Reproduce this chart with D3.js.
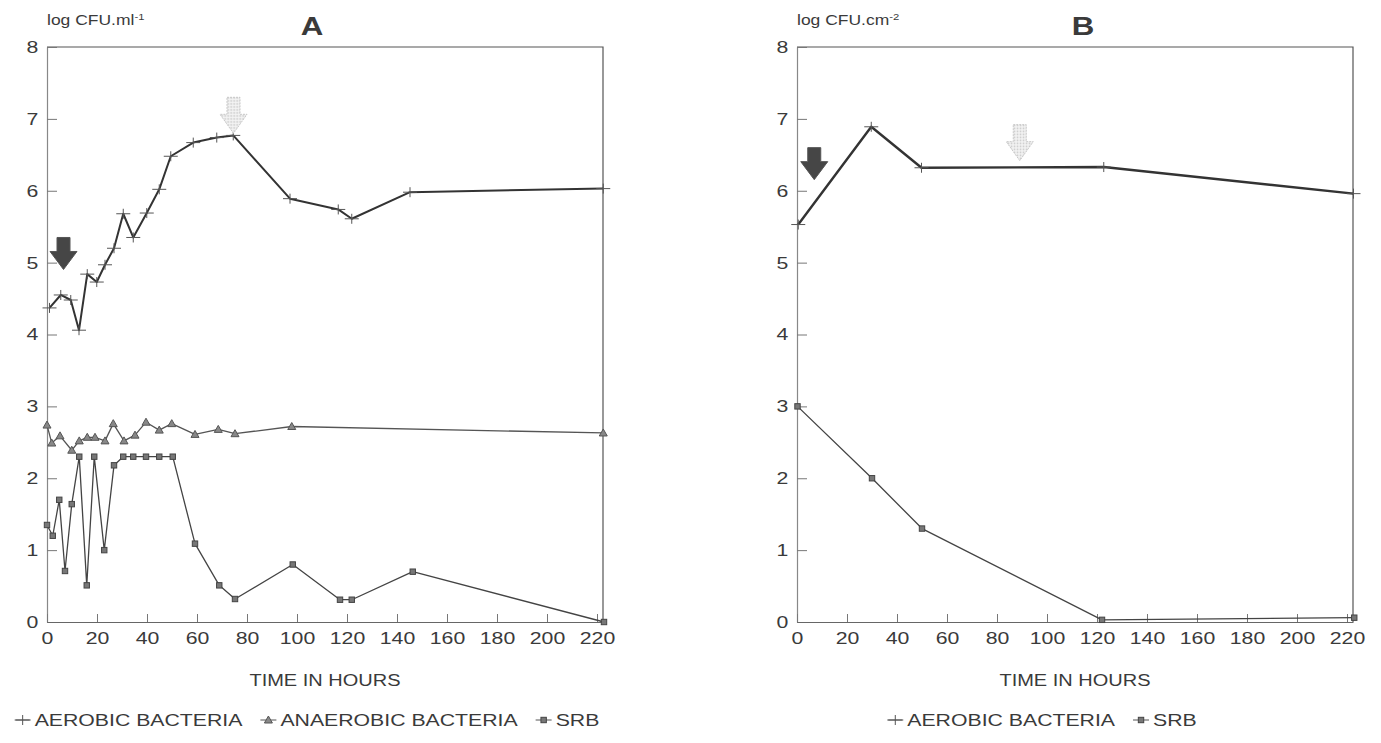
<!DOCTYPE html>
<html>
<head>
<meta charset="utf-8">
<script src="https://cdn.jsdelivr.net/npm/d3@7"></script>
<style>
  body { margin: 0; background: #fff; }
  svg text { font-family: "Liberation Sans", Arial, sans-serif; fill: #3a3a3a; }
</style>
</head>
<body>
<div id="viz"></div>
<script>
// ---- data ----
var yTicks = [0, 1, 2, 3, 4, 5, 6, 7, 8];
var xTicks = [0, 20, 40, 60, 80, 100, 120, 140, 160, 180, 200, 220];

// panel A : log CFU.ml-1
var timeAeroA = [1, 5.5, 9.5, 12.8, 16.1, 19.9, 23.2, 26.8, 30.5, 34.5, 39.9, 44.9, 49.5, 58.5, 67.9, 74.5, 97.2, 116.5, 121.9, 145.2, 222.5];
var aeroA     = [4.37, 4.55, 4.48, 4.06, 4.84, 4.73, 4.97, 5.2, 5.68, 5.35, 5.69, 6.02, 6.48, 6.67, 6.74, 6.77, 5.89, 5.74, 5.61, 5.98, 6.03];

var timeAnaeroA = [0, 1.9, 5.2, 9.9, 12.9, 16.1, 19.2, 23.2, 26.5, 30.8, 35.2, 39.6, 44.9, 49.9, 59.2, 68.5, 75.2, 97.9, 222.5];
var anaeroA     = [2.74, 2.49, 2.59, 2.39, 2.52, 2.57, 2.57, 2.52, 2.76, 2.52, 2.6, 2.78, 2.67, 2.76, 2.61, 2.68, 2.62, 2.72, 2.63];

var timeSrbA = [0, 2.3, 4.9, 7.2, 9.9, 12.9, 15.9, 18.9, 22.9, 26.8, 30.5, 34.5, 39.6, 44.9, 50.3, 59.2, 68.9, 75.2, 98.3, 117.2, 121.9, 146.3, 222.8];
var srbA     = [1.35, 1.2, 1.7, 0.71, 1.64, 2.3, 0.51, 2.3, 1.0, 2.18, 2.3, 2.3, 2.3, 2.3, 2.3, 1.09, 0.51, 0.32, 0.8, 0.31, 0.31, 0.7, 0.0];

// panel B : log CFU.cm-2
var timeAeroB = [0.5, 29.7, 49.8, 122.7, 222.6];
var aeroB     = [5.53, 6.89, 6.32, 6.33, 5.96];
var timeSrbB  = [0.2, 30, 50, 122, 222.9];
var srbB      = [3.0, 2.0, 1.3, 0.03, 0.06];

// arrows (time, top value)
var arrowsA = [{t: 6.6, v: 5.35, kind: 'dark'}, {t: 74.6, v: 7.3, kind: 'light'}];
var arrowsB = [{t: 6.9, v: 6.6, kind: 'dark'}, {t: 89.1, v: 6.92, kind: 'light'}];

var width = 1381, height = 743, sx = 1.25;

var svg = d3.select('#viz').append('svg')
    .attr('width', width)
    .attr('height', height);

var defs = svg.append('defs');
var pat = defs.append('pattern')
    .attr('id', 'dots')
    .attr('width', 3).attr('height', 3)
    .attr('patternUnits', 'userSpaceOnUse');
pat.append('rect').attr('width', 3).attr('height', 3).attr('fill', '#f4f4f4');
pat.append('rect').attr('width', 1.4).attr('height', 1.4).attr('fill', '#bdbdbd');

function zip(ts, vs) {
    return ts.map(function(t, i) { return {t: t, v: vs[i]}; });
}

function wideText(g, x, y, str, size, anchor) {
    return g.append('text')
        .attr('transform', 'translate(' + x + ',' + y + ') scale(' + sx + ',1)')
        .attr('text-anchor', anchor || 'middle')
        .style('font-size', size + 'px')
        .text(str);
}

function drawMarker(g, kind, x, y) {
    if (kind == 'plus') {
        g.append('path')
            .attr('d', 'M' + (x - 7) + ',' + y + 'H' + (x + 7) + 'M' + x + ',' + (y - 5) + 'V' + (y + 5))
            .attr('stroke', '#555').attr('stroke-width', 1).attr('fill', 'none');
    } else if (kind == 'tri') {
        g.append('path')
            .attr('d', 'M' + (x - 4) + ',' + (y + 3) + 'L' + x + ',' + (y - 4) + 'L' + (x + 4) + ',' + (y + 3) + 'Z')
            .attr('stroke', '#555').attr('stroke-width', 1).attr('fill', '#888');
    } else {
        g.append('rect')
            .attr('x', x - 2.7).attr('y', y - 2.7)
            .attr('width', 5.4).attr('height', 5.4)
            .attr('stroke', '#444').attr('stroke-width', 1).attr('fill', '#777');
    }
}

function panel(cfg) {
    var xScale = d3.scaleLinear().domain([0, 222.4]).range([cfg.left, cfg.right]);
    var yScale = d3.scaleLinear().domain([0, 8]).range([622, 47]);
    var g = svg.append('g');

    // frame
    g.append('path')
        .attr('d', 'M' + cfg.left + ',' + yScale(8) + 'H' + cfg.right + 'V' + yScale(0))
        .attr('fill', 'none').attr('stroke', '#555').attr('stroke-width', 1.2);

    var yAxis = g.append('g')
        .attr('transform', 'translate(' + cfg.left + ',0)')
        .call(d3.axisLeft(yScale).tickValues(yTicks).tickSize(-10).tickSizeOuter(0).tickPadding(7));
    var xAxis = g.append('g')
        .attr('transform', 'translate(0,' + yScale(0) + ')')
        .call(d3.axisBottom(xScale).tickValues(xTicks).tickSize(-8).tickSizeOuter(0).tickPadding(13));

    [yAxis, xAxis].forEach(function(ax) {
        ax.select('.domain').attr('stroke', '#666').attr('stroke-width', 1.2);
        ax.selectAll('.tick line').attr('stroke', '#777');
        ax.selectAll('.tick text')
            .style('font-size', '17px')
            .style('font-family', '"Liberation Sans", Arial, sans-serif')
            .attr('fill', '#444')
            .attr('transform', 'scale(' + sx + ',1)');
    });
    yAxis.select('.domain').attr('stroke', '#888');
    xAxis.selectAll('.tick text').attr('dy', '0.55em');

    // labels
    var u = wideText(g, cfg.left, 25, cfg.unit, 14, 'start');
    u.append('tspan').attr('dy', -5).style('font-size', '9px').text(cfg.sup);
    wideText(g, cfg.titleX, 35, cfg.title, 25).style('font-weight', 'bold');
    wideText(g, (cfg.left + cfg.right) / 2, 686, 'TIME IN HOURS', 16);

    // series
    var line = d3.line()
        .x(function(d) { return xScale(d.t); })
        .y(function(d) { return yScale(d.v); });

    cfg.series.forEach(function(s) {
        var pts = zip(s.t, s.v);
        g.append('path')
            .datum(pts)
            .attr('d', line)
            .attr('fill', 'none')
            .attr('stroke', s.color)
            .attr('stroke-width', s.w)
            .attr('stroke-linejoin', 'round');
        pts.forEach(function(d) {
            drawMarker(g, s.marker, xScale(d.t), yScale(d.v));
        });
    });

    // arrows
    cfg.arrows.forEach(function(a) {
        var h = a.kind == 'dark' ? 32 : 36;
        var sh = a.kind == 'dark' ? 14 : 17;
        g.append('path')
            .attr('transform', 'translate(' + xScale(a.t) + ',' + yScale(a.v) + ')')
            .attr('d', 'M-6.5,0L6.5,0L6.5,' + sh + 'L13.5,' + sh + 'L0,' + h + 'L-13.5,' + sh + 'L-6.5,' + sh + 'Z')
            .attr('fill', a.kind == 'dark' ? '#464646' : 'url(#dots)')
            .attr('stroke', a.kind == 'dark' ? '#555' : '#c8c8c8')
            .attr('stroke-width', 1)
            .attr('stroke-dasharray', a.kind == 'dark' ? null : '2,1');
    });

    // legend
    var lg = g.append('g');
    var xpos = 0;
    cfg.legend.forEach(function(item, i) {
        if (i > 0) xpos += 18;
        lg.append('path')
            .attr('d', 'M' + xpos + ',-6H' + (xpos + 16))
            .attr('stroke', '#555').attr('stroke-width', 1);
        drawMarker(lg, item.marker, xpos + 8, -6);
        xpos += 20;
        var t = wideText(lg, xpos, 0, item.name, 17, 'start');
        xpos += t.node().getComputedTextLength() * sx;
    });
    lg.attr('transform', 'translate(' + (cfg.legendX - xpos / 2) + ',726)');
}

panel({
    left: 47, right: 603, titleX: 312, title: 'A',
    unit: 'log CFU.ml', sup: '-1',
    legendX: 307,
    arrows: arrowsA,
    series: [
        {t: timeAeroA, v: aeroA, marker: 'plus', color: '#333', w: 2},
        {t: timeAnaeroA, v: anaeroA, marker: 'tri', color: '#555', w: 1.3},
        {t: timeSrbA, v: srbA, marker: 'sq', color: '#444', w: 1.3}
    ],
    legend: [
        {name: 'AEROBIC BACTERIA', marker: 'plus'},
        {name: 'ANAEROBIC BACTERIA', marker: 'tri'},
        {name: 'SRB', marker: 'sq'}
    ]
});

panel({
    left: 797, right: 1353, titleX: 1083, title: 'B',
    unit: 'log CFU.cm', sup: '-2',
    legendX: 1042,
    arrows: arrowsB,
    series: [
        {t: timeAeroB, v: aeroB, marker: 'plus', color: '#333', w: 2.4},
        {t: timeSrbB, v: srbB, marker: 'sq', color: '#444', w: 1.3}
    ],
    legend: [
        {name: 'AEROBIC BACTERIA', marker: 'plus'},
        {name: 'SRB', marker: 'sq'}
    ]
});
</script>
</body>
</html>
